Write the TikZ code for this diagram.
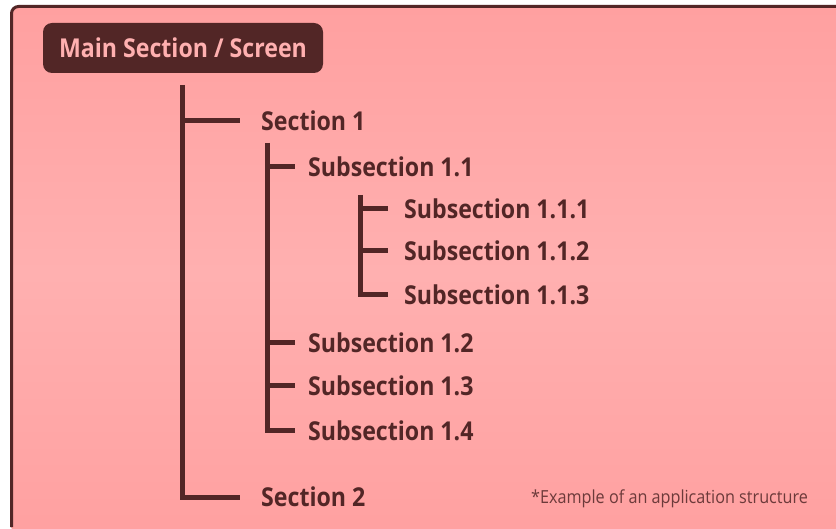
\documentclass[tikz,border=0pt]{standalone}
\usepackage{fontspec}
\setmainfont{Open Sans}
\newfontfamily\condfont[FakeStretch=0.89]{Open Sans}
\newfontfamily\notefont[FakeStretch=0.9]{Open Sans}
\definecolor{dark}{HTML}{522626}
\definecolor{pinkbg}{HTML}{FFAAAA}
\definecolor{pinkedge}{HTML}{FFA0A0}
\definecolor{pinkmid}{HTML}{FFB0B0}
\definecolor{pinktxt}{HTML}{FFB0B0}
\tikzset{
  lbl/.style={anchor=west,inner sep=0pt,text=dark,font=\condfont\fontsize{26}{28}\selectfont\bfseries},
  conn/.style={draw=dark,line width=5pt},
}
\begin{document}
\begin{tikzpicture}[x=1pt,y=-1pt]
\useasboundingbox (0,0) rectangle (836,529);
\fill[white] (0,0) rectangle (836,529);
% frame
\shade[top color=pinkedge,bottom color=pinkedge,middle color=pinkmid,rounded corners=7pt] (11.5,540) -- (11.5,6.5) -- (850,6.5) -- (850,540) -- cycle;
\draw[dark,line width=3pt,rounded corners=7pt] (11.5,527) -- (11.5,6.5) -- (840,6.5);
% main box
\node[fill=dark,rounded corners=9pt,minimum width=280pt,minimum height=50pt,inner sep=0pt,text=pinktxt,font=\condfont\fontsize{26}{28}\selectfont\bfseries] (main) at (183,48) {Main Section / Screen};
% labels
\node[lbl] (s1) at (261,121) {Section 1};
\node[lbl] (s11) at (308,167) {Subsection 1.1};
\node[lbl] (s111) at (404,209) {Subsection 1.1.1};
\node[lbl] (s112) at (404,251) {Subsection 1.1.2};
\node[lbl] (s113) at (404,295) {Subsection 1.1.3};
\node[lbl] (s12) at (308,343) {Subsection 1.2};
\node[lbl] (s13) at (308,386) {Subsection 1.3};
\node[lbl] (s14) at (308,431) {Subsection 1.4};
\node[lbl] (s2) at (261,497) {Section 2};
\node[anchor=west,inner sep=0pt,text=dark!85!pinkbg,font=\notefont\fontsize{18}{20}\selectfont] (note) at (531,499) {*Example of an application structure};
% trunks
\coordinate (t1) at (182,85);
\coordinate (t2) at (267,143);
\coordinate (t3) at (360,195);
\draw[conn] (t1) |- ([xshift=-21pt]s2.west);
\draw[conn] (t1 |- s1.west) -- ([xshift=-21pt]s1.west);
\draw[conn] (t2) |- ([xshift=-13pt]s14.west);
\draw[conn] (t2 |- s11.west) -- ([xshift=-13pt]s11.west);
\draw[conn] (t2 |- s12.west) -- ([xshift=-13pt]s12.west);
\draw[conn] (t2 |- s13.west) -- ([xshift=-13pt]s13.west);
\draw[conn] (t3) |- ([xshift=-16pt]s113.west);
\draw[conn] (t3 |- s111.west) -- ([xshift=-16pt]s111.west);
\draw[conn] (t3 |- s112.west) -- ([xshift=-16pt]s112.west);
\end{tikzpicture}
\end{document}
